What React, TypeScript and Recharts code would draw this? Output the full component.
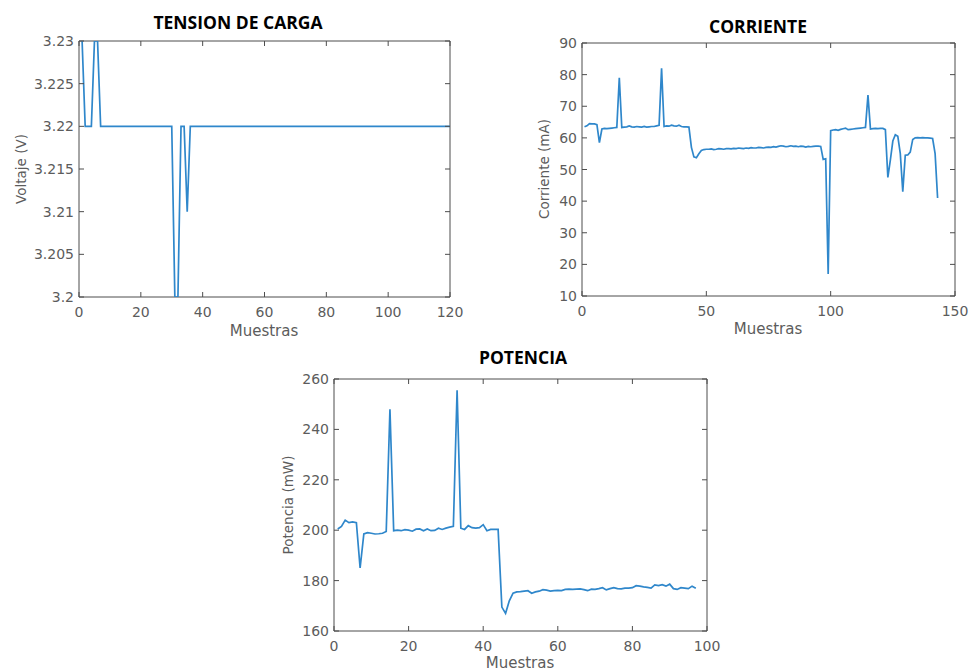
import { LineChart, Line, XAxis, YAxis, ReferenceArea } from 'recharts';

// samples are numbered from 1, as in the source plots
const tensionValues = [
  3.23, 3.22, 3.22, 3.22, 3.23, 3.23, 3.22, 3.22, 3.22, 3.22,
  3.22, 3.22, 3.22, 3.22, 3.22, 3.22, 3.22, 3.22, 3.22, 3.22,
  3.22, 3.22, 3.22, 3.22, 3.22, 3.22, 3.22, 3.22, 3.22, 3.22,
  3.2, 3.2, 3.22, 3.22, 3.21, 3.22, 3.22, 3.22, 3.22, 3.22,
  3.22, 3.22, 3.22, 3.22, 3.22, 3.22, 3.22, 3.22, 3.22, 3.22,
  3.22, 3.22, 3.22, 3.22, 3.22, 3.22, 3.22, 3.22, 3.22, 3.22,
  3.22, 3.22, 3.22, 3.22, 3.22, 3.22, 3.22, 3.22, 3.22, 3.22,
  3.22, 3.22, 3.22, 3.22, 3.22, 3.22, 3.22, 3.22, 3.22, 3.22,
  3.22, 3.22, 3.22, 3.22, 3.22, 3.22, 3.22, 3.22, 3.22, 3.22,
  3.22, 3.22, 3.22, 3.22, 3.22, 3.22, 3.22, 3.22, 3.22, 3.22,
  3.22, 3.22, 3.22, 3.22, 3.22, 3.22, 3.22, 3.22, 3.22, 3.22,
  3.22, 3.22, 3.22, 3.22, 3.22, 3.22, 3.22, 3.22, 3.22, 3.22,
];
const tensionXTicks = [0, 20, 40, 60, 80, 100, 120];
const tensionYTicks = [3.2, 3.205, 3.21, 3.215, 3.22, 3.225, 3.23];

const currentValues = [
  63.5, 63.8, 64.5, 64.4, 64.4, 64.2, 58.5, 62.8, 63.0, 62.9,
  63.0, 63.1, 63.2, 63.3, 79.0, 63.3, 63.4, 63.5, 63.8, 63.5,
  63.4, 63.6, 63.5, 63.4, 63.6, 63.4, 63.5, 63.6, 63.6, 63.8,
  64.0, 82.0, 63.6, 63.8, 63.7, 64.0, 63.8, 63.7, 64.0, 63.6,
  63.5, 63.5, 63.4, 57.0, 54.0, 53.7, 55.0, 56.0, 56.3, 56.4,
  56.4, 56.5, 56.3, 56.4, 56.6, 56.5, 56.4, 56.6, 56.6, 56.5,
  56.7, 56.6, 56.8, 56.7, 56.6, 56.8, 56.7, 56.9, 56.8, 56.8,
  57.0, 56.9, 56.8, 57.0, 57.1, 57.0, 57.2, 57.1, 57.3, 57.5,
  57.4, 57.2, 57.3, 57.5, 57.3, 57.4, 57.2, 57.4, 57.3, 57.1,
  57.3, 57.2, 57.3, 57.4, 57.4, 57.3, 53.2, 53.4, 17.0, 62.3,
  62.5, 62.6, 62.4, 62.7, 62.9, 63.1, 62.6, 62.7, 62.8, 62.9,
  63.0, 63.1, 63.2, 63.3, 73.5, 62.8, 62.9, 63.0, 62.9, 63.0,
  63.0, 62.6, 47.5, 53.0, 59.0, 61.0, 60.5, 55.0, 43.0, 54.5,
  54.6, 55.5, 59.5, 60.0, 60.1, 60.0, 60.1, 60.0, 60.0, 59.9,
  59.8, 55.0, 41.0,
];
const currentXTicks = [0, 50, 100, 150];
const currentYTicks = [10, 20, 30, 40, 50, 60, 70, 80, 90];

const powerValues = [
  200.5, 201.5, 204.0, 203.0, 203.3, 203.0, 185.0, 198.5, 199.0, 198.8,
  198.5, 198.6, 198.8, 199.5, 248.0, 199.8, 200.0, 199.8, 200.2, 200.0,
  199.6, 200.4, 200.5, 199.8, 200.5, 199.8, 199.9, 200.8, 200.3, 200.8,
  201.2, 201.5, 255.5, 200.8, 200.3, 201.8, 201.0, 200.8, 201.0, 202.2,
  199.8, 200.3, 200.3, 200.3, 169.5, 167.0, 172.0, 175.0, 175.5, 175.6,
  175.8, 176.0, 175.0, 175.5, 175.8, 176.4, 176.2, 175.8, 176.0, 176.1,
  176.0, 176.5, 176.6, 176.5, 176.6, 176.7, 176.4, 176.0, 176.6, 176.5,
  176.8, 177.2, 176.3, 176.8, 177.2, 176.8, 176.7, 177.0, 177.0, 177.2,
  178.0, 177.8, 177.5, 177.3, 177.0, 178.3, 178.0, 178.4, 177.8, 178.6,
  176.8, 176.5, 177.2, 177.0, 176.8, 177.8, 177.0,
];
const powerXTicks = [0, 20, 40, 60, 80, 100];
const powerYTicks = [160, 180, 200, 220, 240, 260];

const lineColor = '#2f87cb';
const axisColor = '#4d4d4d';
const tickColor = '#5c5c5c';
const labelFont = 'DejaVu Sans';
const TICK_LEN = 5;
const X_GAP = 10;
const Y_GAP = 5;

const toSeries = (values: number[]) => values.map((v, i) => ({ muestra: i + 1, valor: v }));

// matlab style: tick marks point inward, on both bottom and top edges
const BottomTick = ({ x, y, payload, plotHeight }) => {
  const axisY = y - X_GAP;
  return (
    <g>
      <line x1={x} x2={x} y1={axisY} y2={axisY - TICK_LEN} stroke={axisColor} />
      <line x1={x} x2={x} y1={axisY - plotHeight} y2={axisY - plotHeight + TICK_LEN} stroke={axisColor} />
      <text x={x} y={y} dy="0.71em" textAnchor="middle" fill={tickColor} fontSize={14} fontFamily={labelFont}>
        {payload.value}
      </text>
    </g>
  );
};

const LeftTick = ({ x, y, payload, plotWidth }) => {
  const axisX = x + Y_GAP;
  return (
    <g>
      <line x1={axisX} x2={axisX + TICK_LEN} y1={y} y2={y} stroke={axisColor} />
      <line x1={axisX + plotWidth} x2={axisX + plotWidth - TICK_LEN} y1={y} y2={y} stroke={axisColor} />
      <text x={x} y={y} dy="0.36em" textAnchor="end" fill={tickColor} fontSize={14} fontFamily={labelFont}>
        {payload.value}
      </text>
    </g>
  );
};

// plot = [left, top, right, bottom] of the axes box inside the chart
const MatlabPlot = ({ left, top, width, height, plot, values, xTicks, yTicks }) => {
  const xDomain = [xTicks[0], xTicks[xTicks.length - 1]];
  const yDomain = [yTicks[0], yTicks[yTicks.length - 1]];
  const [pl, pt, pr, pb] = plot;
  const margin = { left: pl - 60, top: pt, right: width - pr, bottom: height - pb - 30 };
  return (
    <div style={{ position: 'absolute', left, top }}>
      <LineChart width={width} height={height} data={toSeries(values)} margin={margin}>
        <XAxis dataKey="muestra" type="number" domain={xDomain} ticks={xTicks} interval={0}
          allowDataOverflow height={30} tickSize={0} tickMargin={X_GAP} axisLine={false} tickLine={false}
          tick={(p) => <BottomTick {...p} plotHeight={pb - pt} />} />
        <YAxis type="number" domain={yDomain} ticks={yTicks} interval={0} allowDataOverflow
          width={60} tickSize={0} tickMargin={Y_GAP} axisLine={false} tickLine={false}
          tick={(p) => <LeftTick {...p} plotWidth={pr - pl} />} />
        <ReferenceArea x1={xDomain[0]} x2={xDomain[1]} y1={yDomain[0]} y2={yDomain[1]}
          fill="none" stroke={axisColor} strokeWidth={1} strokeOpacity={1} />
        <Line dataKey="valor" type="linear" stroke={lineColor} strokeWidth={1.7} dot={false}
          isAnimationActive={false} />
      </LineChart>
    </div>
  );
};

const Title = ({ x, y, text }) => (
  <div style={{
    position: 'absolute', left: x, top: y, transform: 'translate(-50%, -50%)',
    fontFamily: 'Open Sans', fontWeight: 700, fontSize: 17.5, color: '#000', whiteSpace: 'nowrap'
  }}>{text}</div>
);

const AxisLabel = ({ x, y, text, vertical = false }) => (
  <div style={{
    position: 'absolute', left: x, top: y,
    transform: vertical ? 'translate(-50%, -50%) rotate(-90deg)' : 'translate(-50%, -50%)',
    fontFamily: labelFont, fontSize: vertical ? 13.5 : 15, color: tickColor, whiteSpace: 'nowrap', lineHeight: 1
  }}>{text}</div>
);

export default function App() {
  return (
    <div style={{ position: 'absolute', left: 0, top: 0, width: 972, height: 671, background: '#fff' }}>
      <MatlabPlot left={0} top={0} width={480} height={340} plot={[79, 41, 450, 297]}
        values={tensionValues} xTicks={tensionXTicks} yTicks={tensionYTicks} />
      <Title x={238} y={22} text="TENSION DE CARGA" />
      <AxisLabel x={264} y={331} text="Muestras" />
      <AxisLabel x={22} y={169} text="Voltaje (V)" vertical />

      <MatlabPlot left={490} top={0} width={482} height={340} plot={[92, 43, 465, 296]}
        values={currentValues} xTicks={currentXTicks} yTicks={currentYTicks} />
      <Title x={758} y={26} text="CORRIENTE" />
      <AxisLabel x={768} y={329} text="Muestras" />
      <AxisLabel x={545} y={169} text="Corriente (mA)" vertical />

      <MatlabPlot left={250} top={340} width={500} height={331} plot={[84, 39, 457, 291]}
        values={powerValues} xTicks={powerXTicks} yTicks={powerYTicks} />
      <Title x={523} y={357} text="POTENCIA" />
      <AxisLabel x={520} y={663} text="Muestras" />
      <AxisLabel x={289} y={505} text="Potencia (mW)" vertical />
    </div>
  );
}
